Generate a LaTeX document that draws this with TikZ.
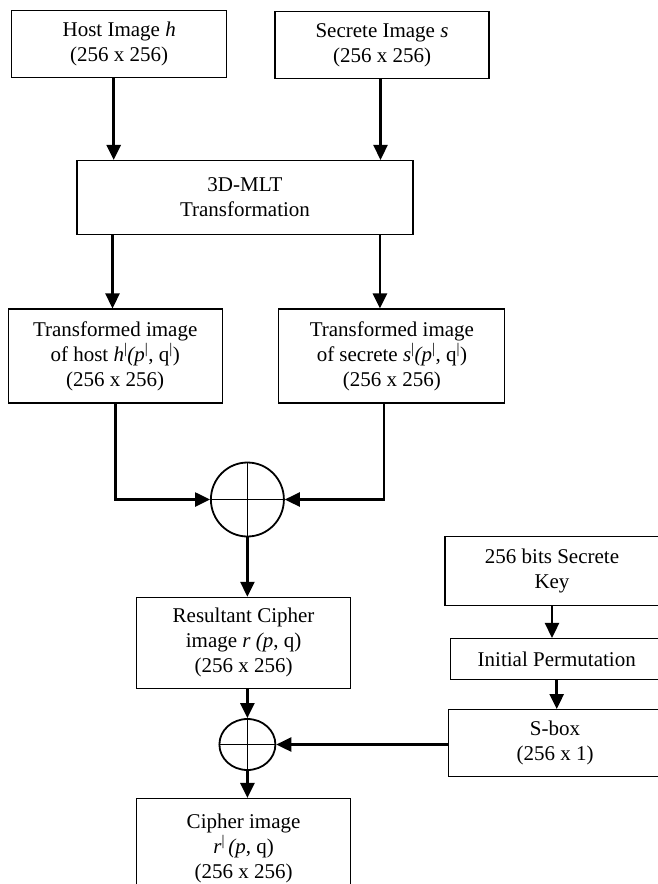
\documentclass[tikz,border=0pt]{standalone}
\usepackage{fontspec}
\setmainfont{Liberation Serif}
\usetikzlibrary{arrows.meta,positioning,calc,shapes.geometric}

\newcommand{\tick}{\textsuperscript{\textbar}}

\begin{document}
\begin{tikzpicture}[x=1pt,y=-1pt,every node/.style={font=\fontsize{21}{25}\selectfont,align=center},blk/.style={draw,line width=1.1pt,inner sep=0pt},xorop/.style={draw,ellipse,line width=1.8pt,inner sep=0pt,path picture={\draw[line width=1.1pt] (path picture bounding box.north)--(path picture bounding box.south) (path picture bounding box.west)--(path picture bounding box.east);}},arr/.style={-{Triangle[length=15pt,width=14pt]},line width=2.6pt}]
\useasboundingbox (0,0) rectangle (658,884);
% left column
\node[blk,minimum width=215pt,minimum height=67pt] (host) at (119.2,43.7) {Host Image \textit{h}\\(256 x 256)};
\node[blk,minimum width=214pt,minimum height=67pt] (sec) at (382,45) {Secrete Image \textit{s}\\(256 x 256)};
\node[blk,minimum width=336pt,minimum height=74pt] (mlt) at (245,197.5) {3D-MLT\\Transformation};
\node[blk,minimum width=214pt,minimum height=94pt] (thost) at (115.2,356) {Transformed image\\of host \textit{h}\tick\textit{(p}\tick, q\tick)\\(256 x 256)};
\node[blk,minimum width=226pt,minimum height=94pt] (tsec) at (391.9,356) {Transformed image\\of secrete \textit{s}\tick\textit{(p}\tick, q\tick)\\(256 x 256)};
\node[xorop,minimum width=73pt,minimum height=74pt] (xor1) at (247.4,499.5) {};
\node[blk,minimum width=214pt,minimum height=91pt] (res) at (243.6,642.8) {Resultant Cipher\\image \textit{r (p}, q)\\(256 x 256)};
\node[xorop,minimum width=56pt,minimum height=51pt] (xor2) at (247.4,744.5) {};
\node[blk,minimum width=214pt,minimum height=99pt] (cipher) at (243.6,848) {Cipher image\\\textit{r}\tick\,\textit{(p}, q)\\(256 x 256)};
% key schedule
\node[blk,minimum width=214pt,minimum height=69pt] (key) at (552,571.2) {256 bits Secrete\\Key};
\node[blk,minimum width=213pt,minimum height=41pt] (ip) at (556.7,659) {Initial Permutation};
\node[blk,minimum width=213pt,minimum height=67pt] (sbox) at (555,743.1) {S-box\\(256 x 1)};
% arrows
\draw[arr] ($(host.south)+(-5.5,0)$) -- ($(host.south |- mlt.north)+(-5.5,0)$);
\draw[arr] ($(sec.south)+(-1.5,0)$) -- ($(sec.south |- mlt.north)+(-1.5,0)$);
\draw[arr] ($(thost.north |- mlt.south)+(-2.7,0)$) -- ($(thost.north)+(-2.7,0)$);
\draw[arr] ($(tsec.north |- mlt.south)+(-12,0)$) -- ($(tsec.north)+(-12,0)$);
\draw[arr] (thost.south) |- (xor1.west);
\draw[arr] ($(tsec.south)+(-8,0)$) |- (xor1.east);
\draw[arr] (xor1.south) -- (xor1.south |- res.north);
\draw[arr] (xor2.north |- res.south) -- (xor2.north);
\draw[arr] (sbox.west |- xor2.east) -- (xor2.east);
\draw[arr] (xor2.south) -- (xor2.south |- cipher.north);
\draw[arr] (key.south) -- (key.south |- ip.north);
\draw[arr] (ip.south) -- (ip.south |- sbox.north);
\end{tikzpicture}
\end{document}
